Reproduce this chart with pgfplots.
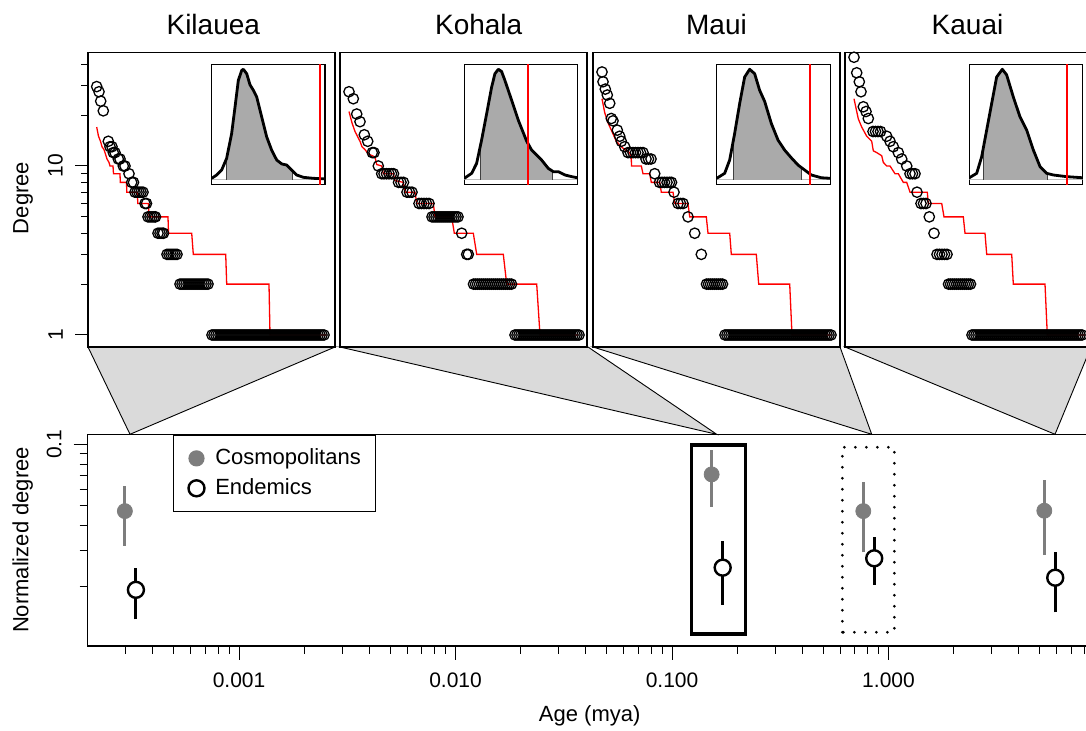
\documentclass[border=0pt]{standalone}
\usepackage{pgfplots}
\pgfplotsset{compat=1.18}
\usepackage{fontspec}
\setmainfont{Liberation Sans}
\definecolor{cosmo}{RGB}{125,125,125}
\definecolor{densfill}{RGB}{170,170,170}
\definecolor{conn}{RGB}{218,218,218}
\definecolor{rline}{RGB}{255,0,0}
\pgfplotsset{
 toppanel/.style={scale only axis, width=123.5pt, height=147.25pt, anchor=south west,
   xmin=0, xmax=247, ymin=0.849, ymax=46.95, xtick=\empty, ytick=\empty,
   axis line style={line width=0.8pt}},
 inset/.style={scale only axis, height=60pt, anchor=south west, xmin=0, xmax=100,
   ymin=-0.039, ymax=1.045, xtick=\empty, ytick=\empty, axis line style={line width=0.6pt},
   axis background/.style={fill=white}},
 circ/.style={only marks, mark=o, mark size=2.6pt, mark options={line width=0.65pt, draw=black}},
 stepred/.style={draw=rline, line width=0.65pt},
 dens/.style={black, line width=1.4pt, line join=round},
 qline/.style={black!75, line width=0.6pt},
 base0/.style={black!25, line width=0.5pt},
 redv/.style={draw=rline, line width=1pt},
}
\begin{document}
\begin{tikzpicture}
% connectors
\filldraw[fill=conn, draw=black, line width=0.45pt] (44pt,-173.5pt) -- (65pt,-217.15pt) -- (167.5pt,-173.5pt) -- cycle;
\filldraw[fill=conn, draw=black, line width=0.45pt] (170pt,-173.5pt) -- (358.35pt,-217.15pt) -- (294pt,-173.5pt) -- cycle;
\filldraw[fill=conn, draw=black, line width=0.45pt] (296.5pt,-173.5pt) -- (435.85pt,-217.15pt) -- (420pt,-173.5pt) -- cycle;
\filldraw[fill=conn, draw=black, line width=0.45pt] (422.5pt,-173.5pt) -- (527.5pt,-217.15pt) -- (545.5pt,-173.5pt) -- cycle;

% ---------- Kilauea ----------
\begin{axis}[ymode=log, toppanel, at={(44pt,-173.5pt)}, ytick={1,10}, yticklabels={1,10},
  minor ytick={2,3,4,5,6,7,8,9,20,30,40}, ytick pos=left, tick align=outside,
  major tick length=6.5pt, minor tick length=3.5pt, tick style={line width=0.5pt, black},
  yticklabel style={rotate=90, anchor=south, font=\fontsize{10.5}{12}\selectfont},
  yticklabel shift=2.5pt]
\addplot[circ] coordinates {(8.7,29.5)(11,27.5)(12.7,24.2)(15.3,21.2)
(20.3,14)(22,13)(24,13)(25.3,12)(27,12)(30.3,11)(32,11)(35.3,10)(37,10)(41,9)(43.7,8)(45.5,8)
(47,7)(49,7)(51,7)(53,7)(55,7)(57,6)(58.5,6)(60,5)(62,5)(64,5)(66,5)(67.5,5)
(70,4)(72,4)(74,4)(75.5,4)(79,3)(81,3)(83,3)(85,3)(87,3)(89,3)
(92,2)(94,2)(96,2)(98,2)(100,2)(102,2)(104,2)(106,2)(108,2)(110,2)(112,2)(114,2)(116,2)(118,2)(120,2)
(124,1)(126,1)(128,1)(130,1)(132,1)(134,1)(136,1)(138,1)(140,1)(142,1)(144,1)(146,1)(148,1)(150,1)
(152,1)(154,1)(156,1)(158,1)(160,1)(162,1)(164,1)(166,1)(168,1)(170,1)(172,1)(174,1)(176,1)(178,1)
(180,1)(182,1)(184,1)(186,1)(188,1)(190,1)(192,1)(194,1)(196,1)(198,1)(200,1)(202,1)(204,1)(206,1)
(208,1)(210,1)(212,1)(214,1)(216,1)(218,1)(220,1)(222,1)(224,1)(226,1)(228,1)(230,1)(232,1)(234,1)(236,1)};
\addplot[stepred] coordinates {(8.7,17)(10.5,15)(12.5,14)(14,13)(16,12.5)(17,12)(19,11)(21,10.5)(22,10)(25,10)(25.5,9)(32,9)(32.3,8)(38.5,8)(38.8,7)(49.3,7)(49.8,6)(60.5,6)(61,5)(80,5)(80.5,4)(103.7,4)(105.3,3)(137.7,3)(138.7,2)(181,2)(182,1)(238.7,1)};
\end{axis}
\begin{axis}[inset, at={(105.85pt,-92.15pt)}, width=56.65pt]
\addplot[base0] coordinates {(0,0)(100,0)};
\addplot[fill=densfill, draw=none] coordinates {(13.2,0)(13.2,0.196)(17.6,0.42)(20.6,0.66)(23.5,0.90)(26.5,0.99)(27.9,1.0)(30.9,0.96)(33.8,0.86)(36.8,0.81)(39.7,0.75)(44.1,0.57)(48.5,0.39)(52.9,0.27)(57.4,0.18)(61.8,0.145)(66.2,0.135)(70.6,0.09)(71.2,0.085)(71.2,0)} -- cycle;
\addplot[qline] coordinates {(13.2,0)(13.2,0.196)};
\addplot[qline] coordinates {(71.2,0)(71.2,0.085)};
\addplot[dens] coordinates {(0,0.015)(4.4,0.045)(8.8,0.09)(13.2,0.196)(17.6,0.42)(20.6,0.66)(23.5,0.90)(26.5,0.99)(27.9,1.0)(30.9,0.96)(33.8,0.86)(36.8,0.81)(39.7,0.75)(44.1,0.57)(48.5,0.39)(52.9,0.27)(57.4,0.18)(61.8,0.145)(66.2,0.135)(70.6,0.09)(75,0.045)(80.9,0.024)(89.7,0.015)(100,0.01)};
\addplot[redv] coordinates {(95.6,-0.1)(95.6,1.1)};
\end{axis}

% ---------- Kohala ----------
\begin{axis}[ymode=log, toppanel, at={(170pt,-173.5pt)}]
\addplot[circ] coordinates {(9,27.5)(13.3,25)(16.7,20.3)(20,18.3)(24.3,15.3)(27.7,14)(32.3,12)(34,12)(38.3,10)(41.7,9)
(44,9)(46.5,9)(49,9)(51.5,9)(53.5,9)(58.5,8)(61,8)(63.5,8)(67,7)(69.5,7)(72,7)
(79,6)(81.5,6)(84,6)(86.5,6)(89,6)
(92,5)(94,5)(96,5)(98,5)(100,5)(102,5)(104,5)(106,5)(108,5)(110,5)(112,5)(114,5)(116,5)(118,5)
(121.7,4)(126.7,3)(128.3,3)
(133.5,2)(135.5,2)(137.5,2)(139.5,2)(141.5,2)(143.5,2)(145.5,2)(147.5,2)(149.5,2)(151.5,2)
(153.5,2)(155.5,2)(157.5,2)(159.5,2)(161.5,2)(163.5,2)(165.5,2)(167.5,2)(169.5,2)(171.5,2)
(175,1)(177,1)(179,1)(181,1)(183,1)(185,1)(187,1)(189,1)(191,1)(193,1)(195,1)(197,1)(199,1)(201,1)
(203,1)(205,1)(207,1)(209,1)(211,1)(213,1)(215,1)(217,1)(219,1)(221,1)(223,1)(225,1)(227,1)(229,1)
(231,1)(233,1)(235,1)(237,1)(239,1)};
\addplot[stepred] coordinates {(9,21)(12,18)(15,16)(20,14)(22,13)(25,12.5)(28.3,11.8)(35,11.3)(36.7,10.2)(41.7,10)(43.3,9)(53.3,9)(55,8.2)(63.3,8)(65,7)(75,7)(76.7,6)(93.3,6)(95,5)(111.7,5)(114.3,4)(133.3,4)(136.7,3)(163.3,3)(166.7,2)(196.7,2)(200,1)(238.3,1)};
\end{axis}
\begin{axis}[inset, at={(232.15pt,-92.15pt)}, width=56.5pt]
\addplot[base0] coordinates {(0,0)(100,0)};
\addplot[fill=densfill, draw=none] coordinates {(14.5,0)(14.5,0.32)(15.3,0.36)(19.8,0.60)(24.2,0.84)(27.1,0.96)(30.1,1.0)(33,0.98)(35.9,0.90)(41.9,0.72)(47.8,0.54)(55.2,0.35)(59.6,0.27)(68.4,0.18)(74.3,0.105)(77.9,0.075)(77.9,0)} -- cycle;
\addplot[qline] coordinates {(14.5,0)(14.5,0.32)};
\addplot[qline] coordinates {(77.9,0)(77.9,0.075)};
\addplot[dens] coordinates {(0,0.015)(6.5,0.06)(10.9,0.15)(15.3,0.36)(19.8,0.60)(24.2,0.84)(27.1,0.96)(30.1,1.0)(33,0.98)(35.9,0.90)(41.9,0.72)(47.8,0.54)(55.2,0.35)(59.6,0.27)(68.4,0.18)(74.3,0.105)(78.8,0.075)(83.2,0.075)(89.1,0.045)(95,0.03)(100,0.02)};
\addplot[redv] coordinates {(56.2,-0.1)(56.2,1.1)};
\end{axis}

% ---------- Maui ----------
\begin{axis}[ymode=log, toppanel, at={(296.5pt,-173.5pt)}]
\addplot[circ] coordinates {(9,36)(10,31.5)(12.3,28.5)(14.3,26.3)(16.7,23.5)(18.3,19.1)(20,18.5)(24.3,16.3)(26.7,15)(28.3,14)(31.7,13)
(35,12)(37.5,12)(40,12)(42.5,12)(45,12)(47.5,12)(50,12)(53,11)(55.5,11)(58,11)(61.7,9)
(66.5,8)(69,8)(71.5,8)(74,8)(76.5,8)(78.5,8)(81,7)(85,6)(87.5,6)(90,6)(95,5)(101.7,4)(108.3,3)
(113.5,2)(115.5,2)(117.5,2)(119.5,2)(121.5,2)(123.5,2)(125.5,2)(127.5,2)(129.5,2)
(132,1)(134,1)(136,1)(138,1)(140,1)(142,1)(144,1)(146,1)(148,1)(150,1)(152,1)(154,1)(156,1)(158,1)
(160,1)(162,1)(164,1)(166,1)(168,1)(170,1)(172,1)(174,1)(176,1)(178,1)(180,1)(182,1)(184,1)(186,1)
(188,1)(190,1)(192,1)(194,1)(196,1)(198,1)(200,1)(202,1)(204,1)(206,1)(208,1)(210,1)(212,1)(214,1)
(216,1)(218,1)(220,1)(222,1)(224,1)(226,1)(228,1)(230,1)(232,1)(234,1)(236,1)(238,1)};
\addplot[stepred] coordinates {(9,25)(11.7,20.7)(15,18)(18.3,16.3)(23.3,14)(28.3,13)(31.7,12.5)(36.7,12)(38.3,11)(38.5,10)(48.3,10)(50,9)(56.7,9)(58.3,8)(66.7,8)(68.3,7)(80,7)(81.7,6)(95,6)(96.7,5)(113.3,5)(115,4)(136.7,4)(138.3,3)(163.3,3)(165.7,2)(196.7,2)(199,1)(238.3,1)};
\end{axis}
\begin{axis}[inset, at={(358.35pt,-92.15pt)}, width=56.8pt]
\addplot[base0] coordinates {(0,0)(100,0)};
\addplot[fill=densfill, draw=none] coordinates {(15,0)(15,0.38)(15.8,0.42)(20.2,0.69)(24.6,0.93)(29,1.0)(33.4,0.96)(37.8,0.81)(42.2,0.71)(48.1,0.51)(54,0.36)(59.8,0.27)(65.7,0.2)(71.6,0.135)(74.8,0.11)(74.8,0)} -- cycle;
\addplot[qline] coordinates {(15,0)(15,0.38)};
\addplot[qline] coordinates {(74.8,0)(74.8,0.11)};
\addplot[dens] coordinates {(0,0.015)(7,0.06)(11.4,0.18)(15.8,0.42)(20.2,0.69)(24.6,0.93)(29,1.0)(33.4,0.96)(37.8,0.81)(42.2,0.71)(48.1,0.51)(54,0.36)(59.8,0.27)(65.7,0.2)(71.6,0.135)(77.4,0.09)(83.3,0.045)(92.1,0.02)(100,0.015)};
\addplot[redv] coordinates {(81.8,-0.1)(81.8,1.1)};
\end{axis}

% ---------- Kauai ----------
\begin{axis}[ymode=log, toppanel, at={(422.5pt,-173.5pt)}]
\addplot[circ] coordinates {(9,44)(11.7,35.6)(14.3,31.5)(16,27.5)(18.3,22.4)(21,21)(23.3,19.1)
(28,16)(30.5,16)(33,16)(35.5,16)(41.7,15)(45,14)(48.3,13)(53.3,12)(56.7,11)(61.7,10)
(65,9)(67.5,9)(70,9)(72,7)(76,6)(78.5,6)(81,6)(84.3,5)(89,4)
(92,3)(94.5,3)(97,3)(99.5,3)(102,3)
(103.5,2)(105.5,2)(107.5,2)(109.5,2)(111.5,2)(113.5,2)(115.5,2)(117.5,2)(119.5,2)(121.5,2)(123.5,2)(125.5,2)
(127,1)(129,1)(131,1)(133,1)(135,1)(137,1)(139,1)(141,1)(143,1)(145,1)(147,1)(149,1)(151,1)(153,1)
(155,1)(157,1)(159,1)(161,1)(163,1)(165,1)(167,1)(169,1)(171,1)(173,1)(175,1)(177,1)(179,1)(181,1)
(183,1)(185,1)(187,1)(189,1)(191,1)(193,1)(195,1)(197,1)(199,1)(201,1)(203,1)(205,1)(207,1)(209,1)
(211,1)(213,1)(215,1)(217,1)(219,1)(221,1)(223,1)(225,1)(227,1)(229,1)(231,1)(233,1)(235,1)(237,1)};
\addplot[stepred] coordinates {(9,25)(13.3,19)(16.7,17)(21.7,15)(26.7,14)(28.3,12.3)(31.7,12)(36.7,11.5)(38.3,10.5)(41.7,10)(45,10)(50,9)(53.3,9)(58.3,8)(61.7,8)(65,7)(82.3,7)(83.3,6)(96.7,6)(99,5)(118.3,5)(120,4)(140,4)(141.7,3)(166.7,3)(168.3,2)(200,2)(202.3,1)(240,1)};
\end{axis}
\begin{axis}[inset, at={(484.65pt,-92.15pt)}, width=56.7pt]
\addplot[base0] coordinates {(0,0)(100,0)};
\addplot[fill=densfill, draw=none] coordinates {(12.4,0)(12.4,0.29)(15.3,0.45)(19.7,0.69)(24.1,0.93)(29.1,1.0)(32.9,0.95)(38.8,0.75)(44.7,0.57)(50.6,0.45)(56.5,0.27)(62.4,0.12)(68.2,0.06)(68.8,0.058)(68.8,0)} -- cycle;
\addplot[qline] coordinates {(12.4,0)(12.4,0.29)};
\addplot[qline] coordinates {(68.8,0)(68.8,0.058)};
\addplot[dens] coordinates {(0,0.02)(6.5,0.06)(10.9,0.21)(15.3,0.45)(19.7,0.69)(24.1,0.93)(29.1,1.0)(32.9,0.95)(38.8,0.75)(44.7,0.57)(50.6,0.45)(56.5,0.27)(62.4,0.12)(68.2,0.06)(74.1,0.045)(85.9,0.03)(100,0.02)};
\addplot[redv] coordinates {(85.9,-0.1)(85.9,1.1)};
\end{axis}

% ---------- bottom panel ----------
\begin{axis}[xmode=log, ymode=log, scale only axis, at={(43.85pt,-322.85pt)}, anchor=south west,
  width=501.65pt, height=105.7pt,
  xmin=0.0002, xmax=8.615, ymin=0.01026, ymax=0.112,
  xtick={0.001,0.01,0.1,1}, xticklabels={0.001,0.010,0.100,1.000},
  minor xtick={0.0003,0.0004,0.0005,0.0006,0.0007,0.0008,0.0009,0.002,0.003,0.004,0.005,0.006,0.007,0.008,0.009,0.02,0.03,0.04,0.05,0.06,0.07,0.08,0.09,0.2,0.3,0.4,0.5,0.6,0.7,0.8,0.9,2,3,4,5,6,7,8},
  ytick={0.1}, yticklabels={0.1},
  minor ytick={0.02,0.03,0.04,0.05,0.06,0.07,0.08,0.09},
  xtick pos=left, ytick pos=left, tick align=outside,
  major tick length=7pt, minor tick length=4pt, tick style={line width=0.5pt, black},
  axis line style={line width=0.8pt},
  tick label style={font=\fontsize{10.5}{12}\selectfont},
  yticklabel style={rotate=90, anchor=south}, yticklabel shift=2.5pt,
  xticklabel shift=3pt,
  legend cell align=left,
  legend image code/.code={\path (0.6pt,0pt) (13.2pt,0pt);
     \draw[mark repeat=2,mark phase=2,#1] plot coordinates {(0cm,0cm)(0.25cm,0cm)(0.5cm,0cm)};},
  legend style={at={(0.0853,1)}, anchor=north west, draw=black, line width=0.6pt, fill=white,
    font=\fontsize{11}{13}\selectfont, nodes={inner xsep=3pt, inner ysep=1.5pt}, inner xsep=4.5pt, inner ysep=5.5pt, row sep=2.5pt}]
% error bars
\addplot[cosmo, line width=1.5pt, forget plot] coordinates {(0.000297,0.0317)(0.000297,0.0626)};
\addplot[cosmo, line width=1.5pt, forget plot] coordinates {(0.1524,0.0494)(0.1524,0.0938)};
\addplot[cosmo, line width=1.5pt, forget plot] coordinates {(0.7648,0.0295)(0.7648,0.0651)};
\addplot[cosmo, line width=1.5pt, forget plot] coordinates {(5.244,0.0286)(5.244,0.0668)};
\addplot[black, line width=1.5pt, forget plot] coordinates {(0.000334,0.0138)(0.000334,0.0248)};
\addplot[black, line width=1.5pt, forget plot] coordinates {(0.1714,0.01626)(0.1714,0.0335)};
\addplot[black, line width=1.5pt, forget plot] coordinates {(0.859,0.0204)(0.859,0.03495)};
\addplot[black, line width=1.5pt, forget plot] coordinates {(5.89,0.01497)(5.89,0.0295)};
% points
\addplot[only marks, mark=*, mark size=3.75pt, color=cosmo] coordinates {(0.000297,0.0470)(0.1524,0.0712)(0.7648,0.0470)(5.244,0.0472)};
\addlegendentry{Cosmopolitans}
\addplot[only marks, mark=*, mark size=4pt, mark options={fill=white, draw=black, line width=1.2pt}] coordinates {(0.000334,0.0193)(0.1714,0.0248)(0.859,0.02756)(5.89,0.02214)};
\addlegendentry{Endemics}
% highlight boxes
\draw[line width=1.6pt] (axis cs:0.1233,0.01171) rectangle (axis cs:0.2188,0.0992);
\draw[line width=1.5pt, line cap=round, dash pattern=on 0pt off 5.5pt] (axis cs:0.6117,0.01194) rectangle (axis cs:1.0637,0.0967);
\end{axis}

% titles and labels
\node[font=\fontsize{14}{16}\selectfont] at (106.65pt,-12.1pt) {Kilauea};
\node[font=\fontsize{14}{16}\selectfont] at (239.35pt,-12.1pt) {Kohala};
\node[font=\fontsize{14}{16}\selectfont] at (358.25pt,-12.1pt) {Maui};
\node[font=\fontsize{14}{16}\selectfont] at (483.75pt,-12.1pt) {Kauai};
\node[font=\fontsize{11}{13}\selectfont, rotate=90, anchor=base] at (14.15pt,-99pt) {Degree};
\node[font=\fontsize{11}{13}\selectfont, rotate=90, anchor=base] at (14.15pt,-270pt) {Normalized degree};
\node[font=\fontsize{11}{13}\selectfont, anchor=base] at (294.85pt,-360.5pt) {Age (mya)};

\pgfresetboundingbox
\useasboundingbox (0pt,0pt) rectangle (543pt,-365.5pt);
\end{tikzpicture}
\end{document}
